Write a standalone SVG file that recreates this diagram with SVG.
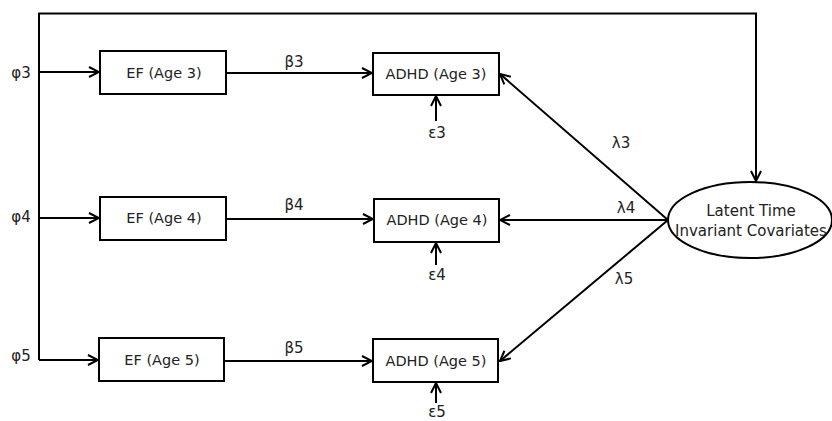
<svg xmlns="http://www.w3.org/2000/svg" width="832" height="421" viewBox="0 0 832 421">
<style>
.box{fill:#fff;stroke:#000;stroke-width:2}
.ln{fill:none;stroke:#000;stroke-width:2}
.t{font-family:"DejaVu Sans",sans-serif;font-size:14.5px;fill:#222;text-anchor:middle}
.e{font-family:"DejaVu Sans",sans-serif;font-size:15px;fill:#222;text-anchor:middle}
.lb{font-family:"DejaVu Sans",sans-serif;font-size:15px;fill:#222;text-anchor:middle}
</style>
<defs>
<marker id="ah" viewBox="0 0 12 12" refX="11" refY="6" markerWidth="12" markerHeight="12" markerUnits="userSpaceOnUse" orient="auto">
<path d="M1,1 L11,6 L1,11" fill="none" stroke="#000" stroke-width="2"/>
</marker>
</defs>
<rect width="832" height="421" fill="#fff"/>
<g id="connectors">
<path class="ln" d="M39,360 V13.5 H756 V181" marker-end="url(#ah)"/>
<line class="ln" x1="39" y1="72" x2="99" y2="72" marker-end="url(#ah)"/>
<line class="ln" x1="39" y1="218" x2="99" y2="218" marker-end="url(#ah)"/>
<line class="ln" x1="39" y1="360" x2="98" y2="360" marker-end="url(#ah)"/>
<line class="ln" x1="226" y1="73" x2="372" y2="73" marker-end="url(#ah)"/>
<line class="ln" x1="226" y1="219" x2="373" y2="219" marker-end="url(#ah)"/>
<line class="ln" x1="224" y1="361" x2="372" y2="361" marker-end="url(#ah)"/>
<line class="ln" x1="668" y1="220" x2="500" y2="74" marker-end="url(#ah)"/>
<line class="ln" x1="668" y1="220" x2="500" y2="220" marker-end="url(#ah)"/>
<line class="ln" x1="668" y1="220" x2="500" y2="361" marker-end="url(#ah)"/>
<line class="ln" x1="436" y1="121" x2="436" y2="96" marker-end="url(#ah)"/>
<line class="ln" x1="436" y1="265" x2="436" y2="243" marker-end="url(#ah)"/>
<line class="ln" x1="436" y1="403" x2="436" y2="383" marker-end="url(#ah)"/>
</g>
<g id="labels">
<text class="lb" x="21" y="78">φ3</text>
<text class="lb" x="21" y="222">φ4</text>
<text class="lb" x="21" y="361">φ5</text>
<text class="lb" x="294" y="67">β3</text>
<text class="lb" x="294" y="210">β4</text>
<text class="lb" x="294" y="353">β5</text>
<text class="lb" x="621" y="148">λ3</text>
<text class="lb" x="626" y="213">λ4</text>
<text class="lb" x="624" y="284">λ5</text>
<text class="lb" x="437" y="138">ε3</text>
<text class="lb" x="437" y="280">ε4</text>
<text class="lb" x="437" y="417">ε5</text>
</g>
<g id="ef3"><rect class="box" x="100" y="51" width="126" height="43"/><text class="t" x="164" y="78">EF (Age 3)</text></g>
<g id="ef4"><rect class="box" x="100" y="197" width="126" height="43"/><text class="t" x="164" y="223">EF (Age 4)</text></g>
<g id="ef5"><rect class="box" x="99" y="338" width="125" height="43"/><text class="t" x="162" y="365">EF (Age 5)</text></g>
<g id="adhd3"><rect class="box" x="373" y="53" width="126" height="42"/><text class="t" x="436" y="79">ADHD (Age 3)</text></g>
<g id="adhd4"><rect class="box" x="374" y="199" width="125" height="43"/><text class="t" x="437" y="225">ADHD (Age 4)</text></g>
<g id="adhd5"><rect class="box" x="373" y="339" width="125" height="43"/><text class="t" x="436" y="366">ADHD (Age 5)</text></g>
<g id="latent"><ellipse class="box" cx="750" cy="220" rx="82" ry="38"/><text class="e" x="751" y="216">Latent Time</text><text class="e" x="751" y="236">Invariant Covariates</text></g>
</svg>
